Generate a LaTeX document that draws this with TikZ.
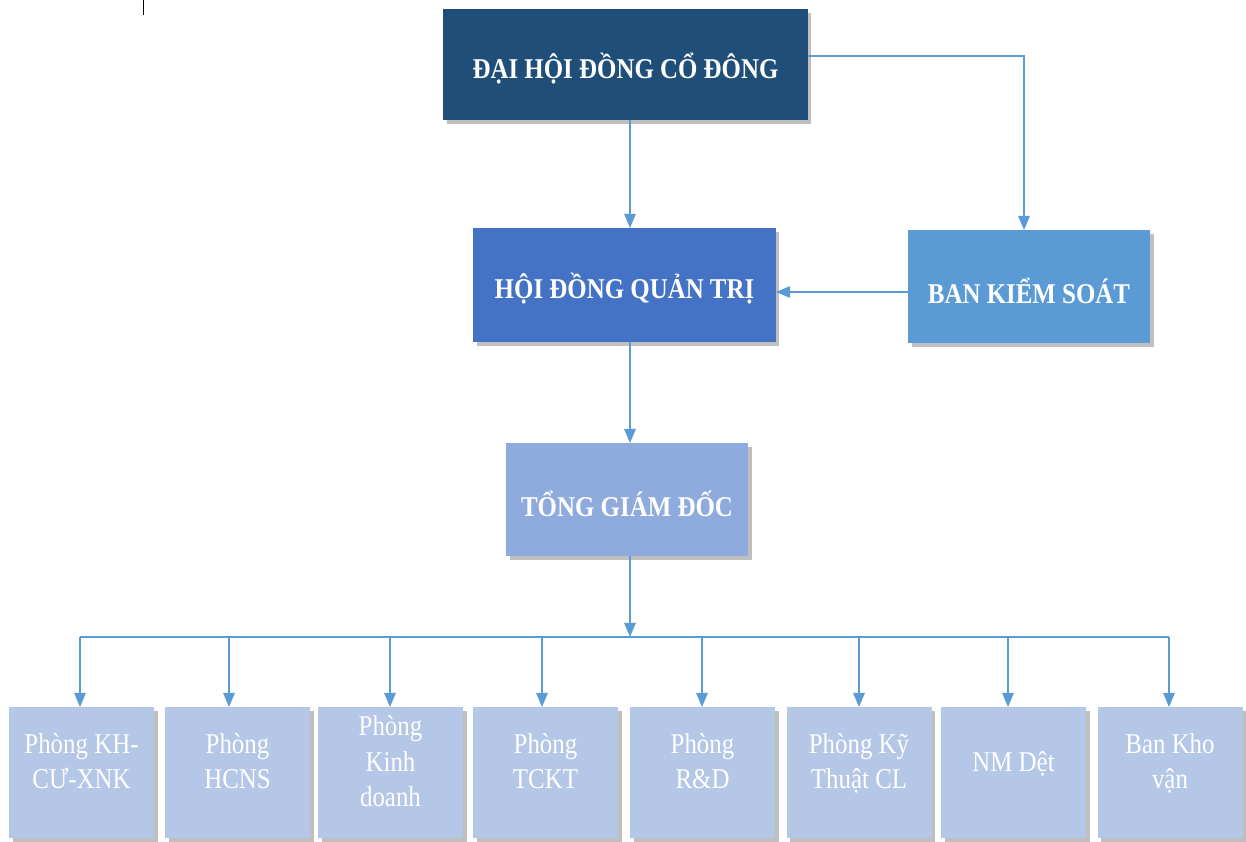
\documentclass[tikz,border=0pt]{standalone}
\usepackage{fontspec}
\setmainfont{Liberation Serif}[FakeStretch=0.87]
\usetikzlibrary{arrows.meta,shadows}
\definecolor{navy}{HTML}{1F4E79}
\definecolor{royal}{HTML}{4472C4}
\definecolor{sky}{HTML}{5B9BD5}
\definecolor{soft}{HTML}{8FAADC}
\definecolor{pale}{HTML}{B4C7E7}
\definecolor{linkblue}{HTML}{5B9BD5}

\begin{document}
\begin{tikzpicture}[x=0.02cm,y=-0.02cm,>={Triangle[width=6.5pt,length=8pt]},
  box/.style={inner sep=0pt,outer sep=0pt,text=white,align=center,
    drop shadow={shadow xshift=2pt,shadow yshift=-2pt,opacity=0.25,fill=black}},
  head/.style={box,font=\fontsize{16.3}{21}\selectfont\bfseries,
    execute at begin node={\rule{0pt}{19pt}}},
  leaf/.style={box,fill=pale,minimum width=2.9cm,minimum height=2.62cm,
    font=\fontsize{16.3}{20}\selectfont},
  link/.style={->,draw=linkblue,line width=0.9pt}]
  \useasboundingbox (0,0) rectangle (1246,841);
  \draw[black,line width=0.5pt] (143,0) -- (143,15);
  % upper levels
  \node[head,fill=navy,minimum width=7.3cm,minimum height=2.22cm] (dhd) at (625.5,64.5) {ĐẠI HỘI ĐỒNG CỔ ĐÔNG};
  \node[head,fill=royal,minimum width=6.06cm,minimum height=2.28cm] (hdqt) at (624.5,285) {HỘI ĐỒNG QUẢN TRỊ};
  \node[head,fill=sky,minimum width=4.84cm,minimum height=2.26cm] (bks) at (1029,286.5) {BAN KIỂM SOÁT};
  \node[head,fill=soft,minimum width=4.84cm,minimum height=2.26cm] (tgd) at (627,499.5) {TỔNG GIÁM ĐỐC};
  \coordinate (axis) at (630,637);
  \coordinate (bend) at (1024,56);
  \coordinate (side) at (0,292);
  \draw[link] (axis |- dhd.south) -- (axis |- hdqt.north);
  \draw[link] (dhd.east |- bend) -- (bend) -- (bend |- bks.north);
  \draw[link] (bks.west |- side) -- (hdqt.east |- side);
  \draw[link] (axis |- hdqt.south) -- (axis |- tgd.north);
  \draw[link] (axis |- tgd.south) -- (axis);
  % departments
  \foreach \n/\cx/\ax/\txt in {p1/81.5/80/{Phòng KH-\\CƯ-XNK},p2/237.5/229/{Phòng\\HCNS},
      p3/390.5/390/{Phòng\\Kinh\\doanh},p4/545.5/542/{Phòng\\TCKT},p5/702.5/702/{Phòng\\R\&D},
      p6/859/859/{Phòng Kỹ\\Thuật CL},p7/1013.5/1008/{NM Dệt},p8/1170/1169/{Ban Kho\\vận}}{
    \node[leaf] (\n) at (\cx,772.5) {\txt\rule[-13pt]{0pt}{0pt}};
    \coordinate (\n-in) at (\ax,637);
    \draw[link] (\n-in) -- (\n-in |- \n.north);
  }
  \draw[link,-] (p1-in) -- (p8-in);
\end{tikzpicture}
\end{document}
